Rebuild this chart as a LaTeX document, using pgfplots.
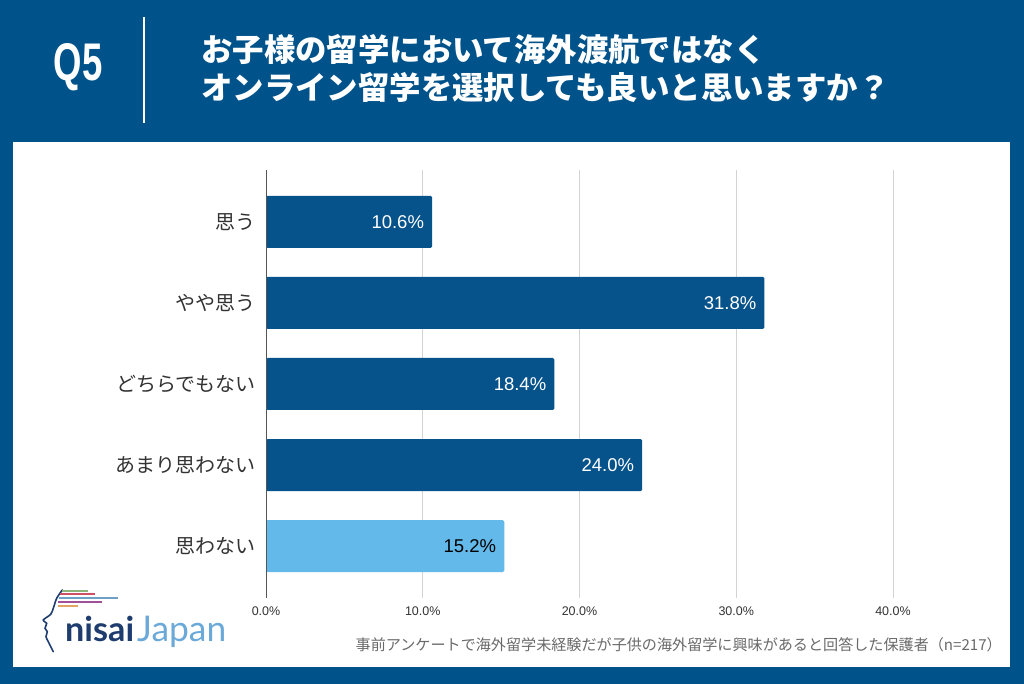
\documentclass[border=0pt]{standalone}
\usepackage{pgfplots}
\pgfplotsset{compat=1.18}
\usepackage{fontspec}
\setmainfont{Liberation Sans}
\newfontfamily\cjk{Noto Sans CJK JP}
\newfontfamily\lato{Lato}
\definecolor{hdrblue}{HTML}{00538A}
\definecolor{barblue}{HTML}{06528A}
\definecolor{lightbar}{HTML}{63B9E9}
\definecolor{gridgray}{HTML}{D3D3D3}
\definecolor{axisgray}{HTML}{555555}
\definecolor{textgray}{HTML}{333333}
\definecolor{footgray}{HTML}{6A6A6A}
\definecolor{logonavy}{HTML}{1E3C6E}
\definecolor{logolight}{HTML}{6BA9D8}
\begin{document}
\begin{tikzpicture}[x=1pt,y=1pt]
% background
\fill[hdrblue] (0,0) rectangle (1024,684);
\fill[white] (13,17) rectangle (1010,542);
% header
\draw[white, line width=1.6pt] (144,667) -- (144,561);
\node[text=white, inner sep=0pt] at (78,617) {\scalebox{0.69}[1]{\fontsize{53}{53}\selectfont\bfseries Q5}};
\node[text=white, anchor=west, inner sep=0pt] at (201,634) {\cjk\bfseries\fontsize{31.4}{31}\selectfont お子様の留学において海外渡航ではなく};
\node[text=white, anchor=west, inner sep=0pt] at (201,596) {\cjk\bfseries\fontsize{31.4}{31}\selectfont オンライン留学を選択しても良いと思いますか？};
% chart
\begin{axis}[
  at={(266pt,86pt)}, anchor=south west,
  scale only axis, width=627pt, height=428pt,
  xbar, bar width=52pt, bar shift=0pt,
  xmin=0, xmax=40, ymin=-0.64, ymax=4.64, y dir=reverse,
  ytick={0,1,2,3,4},
  yticklabels={思う,やや思う,どちらでもない,あまり思わない,思わない},
  yticklabel style={font=\cjk\fontsize{20}{20}\selectfont, text=textgray, inner sep=0pt, anchor=east, xshift=-10pt},
  xtick={0,10,20,30,40},
  xticklabels={0.0\%,10.0\%,20.0\%,30.0\%,40.0\%},
  xticklabel style={font=\fontsize{12.5}{13}\selectfont, text=textgray, inner sep=0pt, anchor=north, yshift=-9pt},
  xmajorgrids, grid style={gridgray, line width=1pt},
  axis line style={draw=none}, major tick length=0pt,
  nodes near coords={\pgfmathprintnumber[fixed,precision=1,fixed zerofill,assume math mode=true]{\pgfplotspointmeta}\%},
  nodes near coords style={anchor=east, inner sep=0pt, xshift=-8pt, font=\fontsize{18.5}{18.5}\selectfont},
  clip=false,
]
\addplot[fill=barblue, draw=none, rounded corners=1.5pt, nodes near coords style={text=white}] coordinates {(10.6,0) (31.8,1) (18.4,2) (24.0,3)};
\addplot[fill=lightbar, draw=none, rounded corners=1.5pt, nodes near coords style={text=black}] coordinates {(15.2,4)};
\draw[axisgray, line width=1pt] (axis cs:0,-0.64) -- (axis cs:0,4.64);
\end{axis}
% footnote
\node[anchor=east, inner sep=0pt, text=footgray] at (1002,39) {\cjk\fontsize{15.1}{16}\selectfont 事前アンケートで海外留学未経験だが子供の海外留学に興味があると回答した保護者（n=217）};
% logo
\draw[logonavy, line width=1.6pt, line cap=round] plot[smooth] coordinates {(62.3,94) (56.7,85.7) (53.3,75.7) (50.7,69.7) (43.3,64) (46.7,60.7) (45,55.7) (47.3,52.3) (46,47.3) (48.3,42.3) (53.3,32.3)};
\draw[line width=1.8pt, color={rgb,255:red,140;green,180;blue,120}] (62,93) -- (88,93);
\draw[line width=1.8pt, color={rgb,255:red,205;green,80;blue,100}] (60,89.7) -- (95,89.7);
\draw[line width=1.8pt, color={rgb,255:red,110;green,160;blue,200}] (59,85.7) -- (118,85.7);
\draw[line width=1.8pt, color={rgb,255:red,160;green,80;blue,150}] (58,82.3) -- (102,82.3);
\draw[line width=1.8pt, color={rgb,255:red,225;green,165;blue,100}] (58,78.3) -- (78,78.3);
\node[anchor=base west, inner sep=0pt, text=logonavy] at (65,42) {\resizebox{69pt}{!}{\lato\bfseries\fontsize{30}{30}\selectfont nisai}};
\node[anchor=base west, inner sep=0pt, text=logolight] at (137,42) {\resizebox{89pt}{!}{\lato\fontsize{30}{30}\selectfont Japan}};
\end{tikzpicture}
\end{document}
